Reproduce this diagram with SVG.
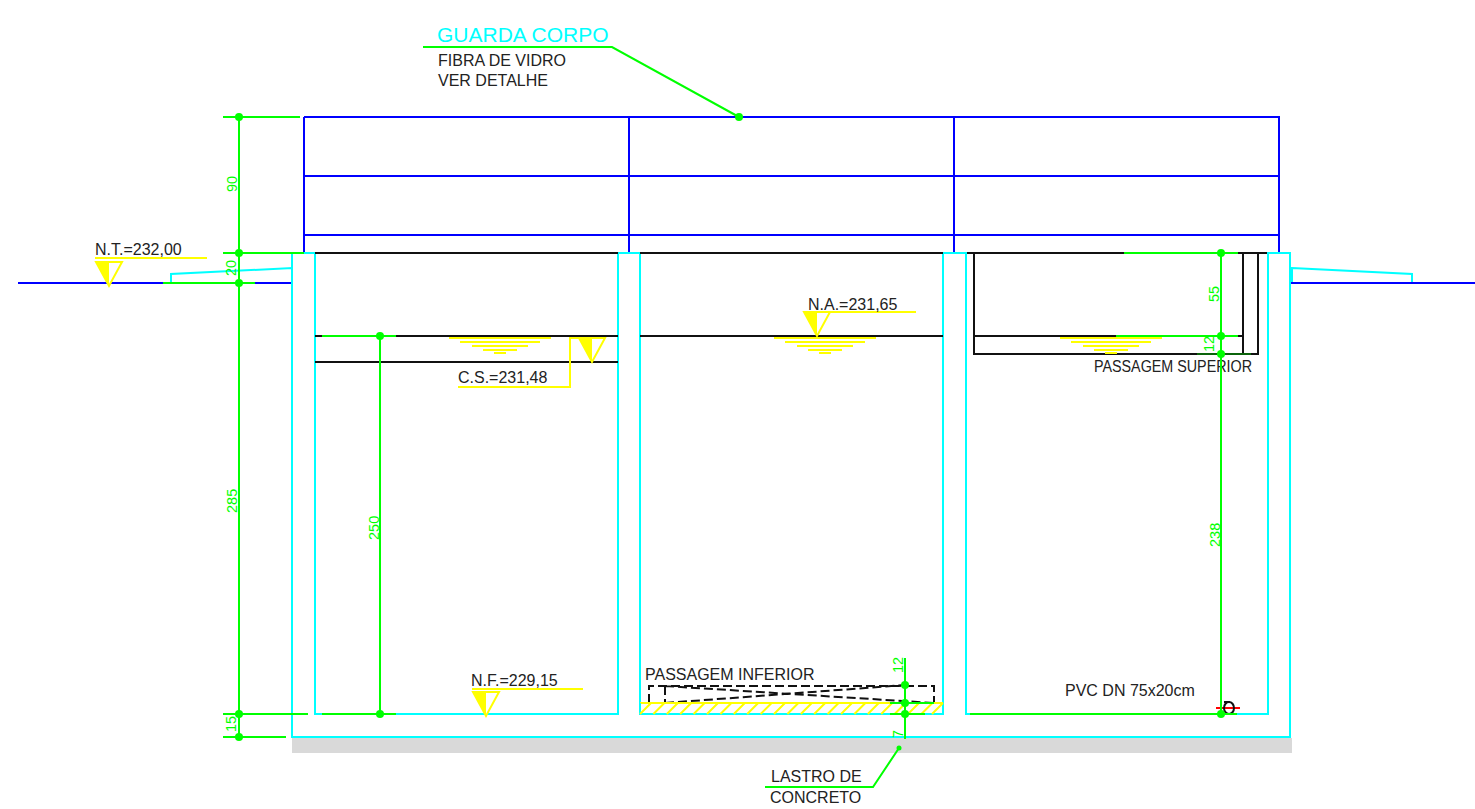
<svg xmlns="http://www.w3.org/2000/svg" width="1475" height="809" viewBox="0 0 1475 809">
<style>
text{font-family:"Liberation Sans",Arial,sans-serif;fill:#222;font-size:16px}
.dim{fill:#0f0;font-size:14.5px}
.g{stroke:#0f0;stroke-width:2;fill:none}
.c{stroke:#0ff;stroke-width:2;fill:none}
.b{stroke:#00f;stroke-width:2;fill:none}
.k{stroke:#111;stroke-width:2;fill:none}
.y{stroke:#ff0;stroke-width:2;fill:none}
.d{stroke:#111;stroke-width:2;stroke-dasharray:9 4;fill:none}
.dot{fill:#0f0}
</style>
<defs>
<g id="tri"><path d="M-13 0H13L0 24Z" fill="#fff" stroke="#ff0" stroke-width="2"/><path d="M-13 0H0V24Z" fill="#ff0"/></g>
<g id="water"><path d="M-51 0H51M-40 4H40M-28 8H28M-17 12H17M-6 15H6" stroke="#ff0" stroke-width="2" fill="none"/></g>
</defs>
<g id="lastro"><rect x="292" y="738" width="1000" height="15" fill="#d9d9d9"/></g>
<g id="guarda-corpo">
<path class="b" d="M304 117H1279V252M304 176H1279M304 235H1279M304 252V117M629 117V252M954 117V252"/>
<text x="437" y="42" style="fill:#0ff;font-size:21px">GUARDA CORPO</text>
<text x="438" y="66">FIBRA DE VIDRO</text>
<text x="438" y="86">VER DETALHE</text>
</g>
<g id="terreno">
<path class="c" d="M171 283V274L292 268V283ZM1292 268L1412 274V283H1292Z"/>
<path class="b" d="M18 283H292M1290 283H1475"/>
</g>
<g id="tanque">
<path class="c" d="M292 253V737H1290V253H1268V714H966V253H943V714H640V253H618V714H315V253Z"/>
<path class="c" d="M292 253H315M618 253H640M943 253H966M1268 253H1290"/>
</g>
<g id="camaras">
<path class="k" d="M315 253H618M640 253H943M967 253H1267M315 336H618M315 362H618M640 336H943M974 336H1243M974 253V354H1258V253M1243 253V354"/>
</g>
<g id="passagem-inferior">
<path class="d" d="M649 703V686H934V703M665 686V703M665 686L934 703M665 703L905 685"/>
<path d="M640 703H943" stroke="#ff0" stroke-width="2"/>
<path class="c" d="M640 703V714H943V703"/>
<path d="M640 714L651 703M653.400 714L664.400 703M666.800 714L677.800 703M680.200 714L691.200 703M693.600 714L704.600 703M707 714L718 703M720.400 714L731.400 703M733.800 714L744.800 703M747.200 714L758.200 703M760.600 714L771.600 703M774 714L785 703M787.400 714L798.400 703M800.800 714L811.800 703M814.200 714L825.200 703M827.600 714L838.600 703M841 714L852 703M854.400 714L865.400 703M867.800 714L878.800 703M881.200 714L892.200 703M894.600 714L905.600 703M908 714L919 703M921.400 714L932.400 703M932 714L943 703" stroke="#ff0" stroke-width="2"/>
<text x="645" y="680">PASSAGEM INFERIOR</text>
</g>
<g id="niveis">
<use href="#tri" x="109" y="262"/>
<path class="y" d="M95 258H207"/>
<text x="95" y="255">N.T.=232,00</text>
<use href="#tri" x="817" y="312"/>
<path class="y" d="M804 312H916"/>
<text x="808" y="310">N.A.=231,65</text>
<use href="#water" x="500" y="338"/>
<use href="#water" x="825" y="338"/>
<use href="#water" x="1111" y="338"/>
<use href="#tri" x="592" y="338"/>
<path class="y" d="M458 387H570V338H592"/>
<text x="458" y="383">C.S.=231,48</text>
<use href="#tri" x="486" y="692"/>
<path class="y" d="M472 689H583"/>
<text x="471" y="686">N.F.=229,15</text>
</g>
<g id="textos">
<text x="1094" y="372" textLength="158" lengthAdjust="spacingAndGlyphs">PASSAGEM SUPERIOR</text>
<text x="1065" y="696">PVC DN 75x20cm</text>
</g>
<g id="tubo-pvc">
<path d="M1216 708H1240" stroke="#f00" stroke-width="2"/>
<ellipse cx="1229" cy="708" rx="5" ry="6" fill="none" stroke="#111" stroke-width="2"/>
<path d="M1224 702H1230" stroke="#111" stroke-width="2"/>
</g>
<g id="conectores">
<path class="g" d="M223 117H300M239 117V737M223 253H304M163 283H255M223 714H308M223 737H286" />
<path class="g" d="M322 336H396M380 336V714M322 714H396"/>
<path class="g" d="M423 47H612L739 117"/>
<path class="g" d="M905 658V739M890 703H934M890 714H925"/>
<path class="g" d="M1124 253H1238M1116 336H1238M1221 253V714M970 714H1237"/>
<path class="g" d="M1197 354H1251" opacity=".35"/>
<path class="g" d="M765 787H873L899 748"/>
<circle class="dot" cx="739" cy="117" r="4"/>
<circle class="dot" cx="239" cy="117" r="4"/><circle class="dot" cx="239" cy="253" r="4"/><circle class="dot" cx="239" cy="283" r="4"/><circle class="dot" cx="239" cy="714" r="4"/><circle class="dot" cx="239" cy="737" r="4"/>
<circle class="dot" cx="380" cy="336" r="4"/><circle class="dot" cx="380" cy="714" r="4"/>
<circle class="dot" cx="905" cy="685" r="4"/><circle class="dot" cx="905" cy="703" r="4"/><circle class="dot" cx="905" cy="714" r="4"/>
<circle class="dot" cx="1221" cy="253" r="4"/><circle class="dot" cx="1221" cy="336" r="4"/><circle class="dot" cx="1221" cy="354" r="4"/><circle class="dot" cx="1221" cy="714" r="4"/>
<circle class="dot" cx="899" cy="748" r="2.500"/>
<text class="dim" transform="translate(237 192) rotate(-90)">90</text>
<text class="dim" transform="translate(236 276) rotate(-90)">20</text>
<text class="dim" transform="translate(237 513) rotate(-90)">285</text>
<text class="dim" transform="translate(236 732) rotate(-90)">15</text>
<text class="dim" transform="translate(379 540) rotate(-90)">250</text>
<text class="dim" transform="translate(903 673) rotate(-90)">12</text>
<text class="dim" transform="translate(903 738) rotate(-90)">7</text>
<text class="dim" transform="translate(1219 302) rotate(-90)">55</text>
<text class="dim" transform="translate(1214 352) rotate(-90)">12</text>
<text class="dim" transform="translate(1220 547) rotate(-90)">238</text>
</g>
<g id="lastro-texto">
<text x="771" y="782">LASTRO DE</text>
<text x="770" y="803">CONCRETO</text>
</g>
</svg>
